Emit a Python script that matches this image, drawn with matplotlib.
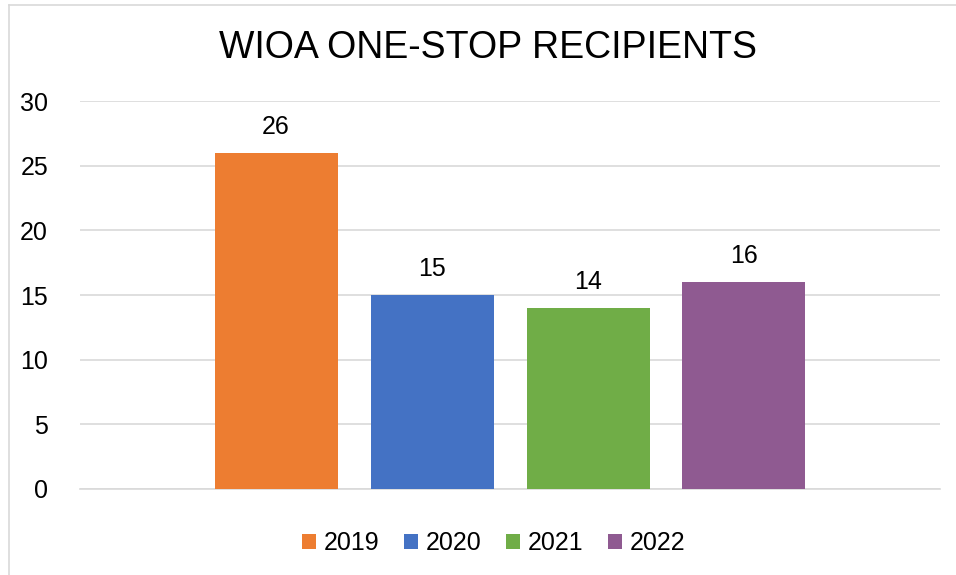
import numpy as np
import matplotlib
matplotlib.use('Agg')
import matplotlib.pyplot as plt
from matplotlib.lines import Line2D

# Daten
years = ['2019', '2020', '2021', '2022']
recipients = [26, 15, 14, 16]
colors = ['#ED7D31', '#4472C4', '#70AD47', '#8F5A91']

plt.rcParams['font.family'] = ['Liberation Sans', 'DejaVu Sans']

fig = plt.figure(figsize=(9.56, 5.75), dpi=100)
ax = fig.add_axes([0.0837, 0.1496, 0.8996, 0.6747])

# Balkenpositionen: Breite 1, Abstand ~0.27
w = 1.0
gap = 0.268
x = np.arange(len(years)) * (w + gap)
x = x - x.mean()
bars = ax.bar(x, recipients, width=w, color=colors, label=years, zorder=3)

for xi, v in zip(x, recipients):
    ax.annotate(str(v), (xi, v), xytext=(0, 10), textcoords='offset points',
                ha='center', va='bottom', fontsize=18, color='#000000')

ax.set_xlim(-3.496, 3.496)
ax.set_ylim(0, 30)
ax.set_yticks(range(0, 31, 5))
ax.set_xticks([])
ax.tick_params(axis='y', length=0, labelsize=18, pad=23)
ax.grid(axis='y', color='#D9D9D9', linewidth=1.2, zorder=0)
ax.axhline(0, color='#D9D9D9', linewidth=1.2, zorder=1, clip_on=False)
for s in ax.spines.values():
    s.set_visible(False)

fig.text(0.51, 0.916, 'WIOA ONE-STOP RECIPIENTS', ha='center', va='center', fontsize=27)

ax.legend(handles=list(bars), labels=years, loc='center', bbox_to_anchor=(0.481, -0.14),
          ncol=4, frameon=False, fontsize=18, handlelength=0.55, handleheight=0.55,
          handletextpad=0.3, columnspacing=1.0)

# Rahmen (nur links und oben sichtbar)
bx = 8.5 / 956
by = 1 - 4.5 / 575
fig.lines.append(Line2D([bx, bx], [0, by], transform=fig.transFigure, color='#D9D9D9', linewidth=1.2))
fig.lines.append(Line2D([bx, 1], [by, by], transform=fig.transFigure, color='#D9D9D9', linewidth=1.2))

fig.savefig('out.png', dpi=100)
